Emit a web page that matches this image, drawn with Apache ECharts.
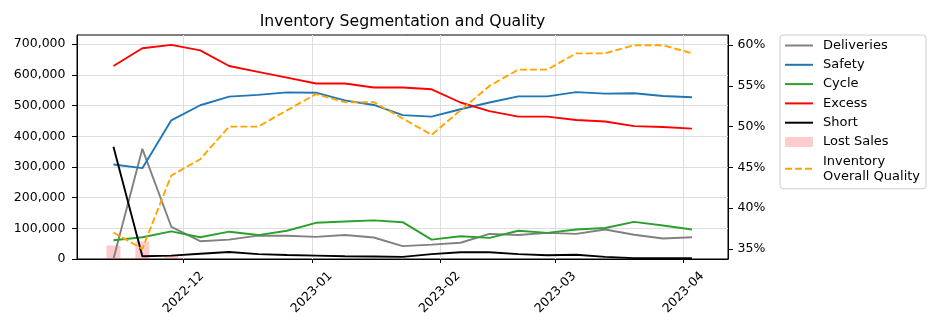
<!DOCTYPE html>
<html><head><meta charset="utf-8">
<script src="https://cdn.jsdelivr.net/npm/echarts@6/dist/echarts.min.js"></script>
<style>html,body{margin:0;padding:0;background:#fff}#c{width:945px;height:331px}</style>
</head><body><div id="c"></div>
<script>
const weeks = ['2022-11-14','2022-11-21','2022-11-28','2022-12-05','2022-12-12','2022-12-19','2022-12-26',
  '2023-01-02','2023-01-09','2023-01-16','2023-01-23','2023-01-30','2023-02-06','2023-02-13','2023-02-20',
  '2023-02-27','2023-03-06','2023-03-13','2023-03-20','2023-03-27','2023-04-03'];
const deliveries = [0,359000,105000,58000,63000,76000,76000,72000,78000,70000,42000,47000,53000,82000,78000,85000,82000,96000,79000,67000,71000];
const safety = [308000,296000,452000,501000,529000,535000,543000,542000,517000,502000,469000,464000,488000,510000,530000,530000,544000,539000,540000,531000,527000];
const cycle = [61000,71000,90000,71000,89000,78000,92000,118000,122000,126000,120000,63000,74000,69000,92000,85000,96000,101000,121000,109000,96000];
const excess = [629000,687000,698000,680000,629000,610000,591000,572000,572000,559000,559000,553000,510000,482000,464000,464000,453000,448000,433000,430000,425000];
const shortage = [366000,9000,11000,17000,23000,16000,13000,11000,9000,8000,7000,16000,22000,22000,16000,12000,14000,7000,3000,3000,3000];
const lostSales = [44000,57000,13000,0,0,0,0,0,0,0,0,0,0,0,0,0,0,0,0,0,0];
const quality = [37,35,44,46,50,50,52,54,53,53,51,49,52,55,57,57,59,59,60,60,59];
const leftTicks = [0,100000,200000,300000,400000,500000,600000,700000];
const rightTicks = [35,40,45,50,55,60];
const monthTicks = ['2022-12-01','2023-01-01','2023-02-01','2023-03-01','2023-04-01'];

const ts = s => Date.parse(s + 'T00:00:00Z');
const pairs = arr => weeks.map((w, i) => [ts(w), arr[i]]);
const FONT = 'DejaVu Sans';
const LW = 1.9;
const lineSeries = (name, data, color, extra) => Object.assign({
  name, type: 'line', data: pairs(data), symbol: 'none', showSymbol: false,
  lineStyle: { color, width: LW }, itemStyle: { color }, z: 3
}, extra || {});
const noSym = { color: 'rgba(0,0,0,0)', borderColor: 'rgba(0,0,0,0)', borderWidth: 0 };

const chart = echarts.init(document.getElementById('c'), null, { renderer: 'canvas' });
chart.setOption({
  animation: false,
  textStyle: { fontFamily: FONT },
  title: {
    text: 'Inventory Segmentation and Quality', left: 402.5, top: 14, padding: 0, textAlign: 'center',
    textStyle: { fontFamily: FONT, fontSize: 15.7, fontWeight: 'normal', color: '#000' }
  },
  grid: { left: 77, right: 217, top: 35, bottom: 72, show: true, borderColor: '#000', borderWidth: 1, containLabel: false },
  legend: {
    orient: 'vertical', left: 780, top: 35, padding: [3, 6, 5, 4],
    itemWidth: 28, itemHeight: 10, itemGap: 4.3,
    borderColor: '#cccccc', borderWidth: 1, borderRadius: 3,
    itemStyle: noSym,
    textStyle: { fontFamily: FONT, fontSize: 13, lineHeight: 15, color: '#000', padding: [0, 0, 0, 5] },
    formatter: n => n === 'Inventory Overall Quality' ? 'Inventory\nOverall Quality' : n,
    data: [{ name: 'Deliveries' }, { name: 'Safety' }, { name: 'Cycle' }, { name: 'Excess' }, { name: 'Short' },
      { name: 'Lost Sales', icon: 'rect', itemStyle: { color: 'rgba(255,0,0,0.2)', borderWidth: 0 } },
      { name: 'Inventory Overall Quality' }]
  },
  xAxis: {
    type: 'value', min: ts('2022-11-05') + 0.18 * 864e5, max: ts('2023-04-11') + 0.73 * 864e5,
    axisLine: { show: true, lineStyle: { color: '#000', width: 1 } },
    axisTick: { show: true, length: 4, lineStyle: { color: '#000' }, customValues: monthTicks.map(ts) },
    axisLabel: {
      customValues: monthTicks.map(ts), rotate: 45, align: 'center', verticalAlign: 'middle', margin: 33.5,
      fontFamily: FONT, fontSize: 12.5, color: '#000',
      formatter: v => { const d = new Date(v); return d.getUTCFullYear() + '-' + String(d.getUTCMonth() + 1).padStart(2, '0'); }
    },
    splitLine: { show: true, lineStyle: { color: '#dddddd', width: 1 } }
  },
  yAxis: [{
    type: 'value', min: 0, max: 730000, position: 'left',
    axisLine: { show: true, lineStyle: { color: '#000' } },
    axisTick: { show: true, length: 5, lineStyle: { color: '#000' }, customValues: leftTicks },
    axisLabel: { customValues: leftTicks, margin: 11.5, fontFamily: FONT, fontSize: 12.5, color: '#000',
      formatter: v => v.toLocaleString('en-US') },
    splitLine: { show: true, lineStyle: { color: '#dddddd', width: 1 } }
  }, {
    type: 'value', min: 33.75, max: 61.25, position: 'right',
    axisLine: { show: true, lineStyle: { color: '#000' } },
    axisTick: { show: true, length: 5, lineStyle: { color: '#000' }, customValues: rightTicks },
    axisLabel: { customValues: rightTicks, margin: 9.5, fontFamily: FONT, fontSize: 12.5, color: '#000',
      formatter: v => v + '%' },
    splitLine: { show: false }
  }],
  series: [
    lineSeries('Deliveries', deliveries, '#808080'),
    lineSeries('Safety', safety, '#1f77b4'),
    lineSeries('Cycle', cycle, '#2ca02c'),
    lineSeries('Excess', excess, '#ff0000'),
    lineSeries('Short', shortage, '#000000'),
    { name: 'Lost Sales', type: 'bar', data: pairs(lostSales), barWidth: 14, z: 2,
      itemStyle: { color: 'rgba(255,0,0,0.2)' } },
    lineSeries('Inventory Overall Quality', quality, '#ffa500', {
      yAxisIndex: 1, z: 4, lineStyle: { color: '#ffa500', width: LW, type: [7, 3] } })
  ]
});
</script></body></html>
